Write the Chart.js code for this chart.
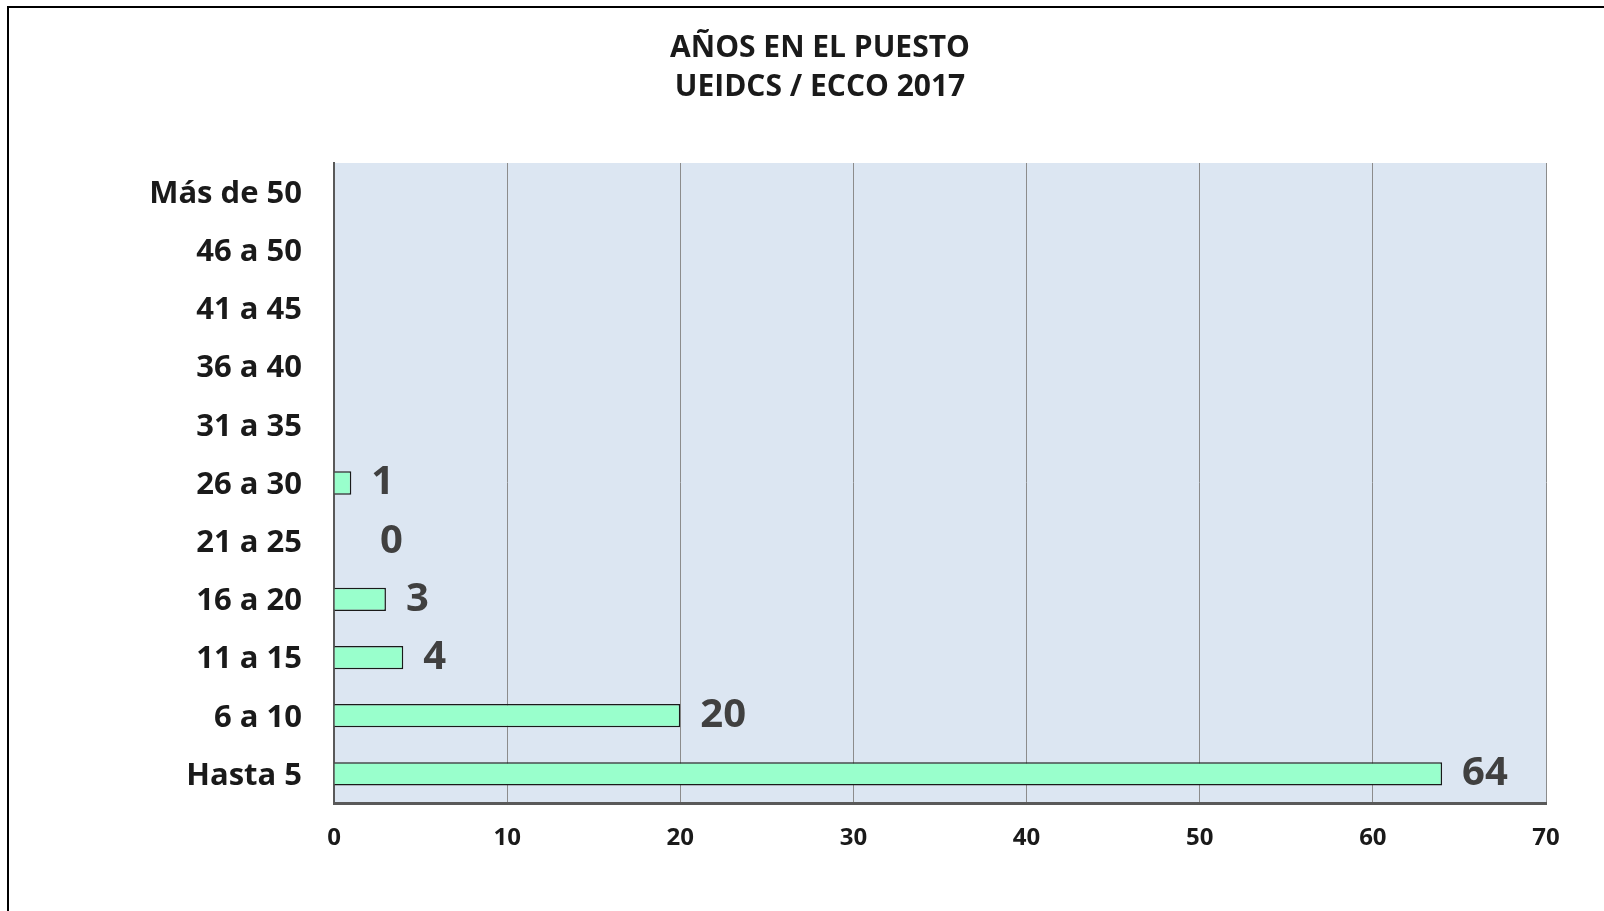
<!DOCTYPE html>
<html>
<head>
<meta charset="utf-8">
<script src="https://cdn.jsdelivr.net/npm/chart.js@4.4.1/dist/chart.umd.min.js"></script>
<style>
  html, body { margin: 0; padding: 0; background: #ffffff; overflow: hidden; }
  #wrap { position: absolute; left: 0; top: 0; width: 1604px; height: 911px; overflow: hidden; }
  #frame { position: absolute; left: 7px; top: 6px; width: 1700px; height: 1000px; border-left: 2px solid #000; border-top: 2px solid #000; box-sizing: border-box; pointer-events: none; }
  canvas { position: absolute; left: 0; top: 0; }
</style>
</head>
<body>
<div id="wrap">
  <canvas id="chart" width="1604" height="911"></canvas>
  <div id="frame"></div>
</div>
<script>
// Años en el puesto, de mayor a menor antigüedad (arriba a abajo)
const categories = ['Más de 50', '46 a 50', '41 a 45', '36 a 40', '31 a 35', '26 a 30', '21 a 25', '16 a 20', '11 a 15', '6 a 10', 'Hasta 5'];
const values = [null, null, null, null, null, 1, 0, 3, 4, 20, 64];
const xTicks = [0, 10, 20, 30, 40, 50, 60, 70];
const titleLines = ['AÑOS EN EL PUESTO', 'UEIDCS / ECCO 2017'];

const FONT = "'Open Sans', 'DejaVu Sans', sans-serif";

// Fondo azul claro del área de trazado
const plotBackground = {
  id: 'plotBackground',
  beforeDraw(chart) {
    const { ctx, chartArea: a } = chart;
    ctx.save();
    ctx.fillStyle = '#dce6f2';
    ctx.fillRect(a.left, a.top, a.right - a.left, a.bottom - a.top);
    ctx.restore();
  }
};

// Etiquetas de valor al final de cada barra
const valueLabels = {
  id: 'valueLabels',
  afterDatasetsDraw(chart) {
    const { ctx } = chart;
    const meta = chart.getDatasetMeta(0);
    ctx.save();
    ctx.fillStyle = '#404040';
    ctx.font = "bold 40px " + FONT;
    ctx.textAlign = 'left';
    ctx.textBaseline = 'middle';
    meta.data.forEach((bar, i) => {
      const v = values[i];
      if (v === null || v === undefined) return;
      const offset = v === 0 ? 46 : 20;
      ctx.fillText(String(v), bar.x + offset, bar.y);
    });
    ctx.restore();
  }
};

new Chart(document.getElementById('chart'), {
  type: 'bar',
  data: {
    labels: categories,
    datasets: [{
      data: values,
      backgroundColor: '#99ffcc',
      borderColor: '#1a1a1a',
      borderWidth: 1.5,
      borderSkipped: 'start',
      barPercentage: 0.4,
      categoryPercentage: 1
    }]
  },
  options: {
    indexAxis: 'y',
    responsive: false,
    animation: false,
    layout: { padding: { left: 94, right: 58, top: 0, bottom: 0 } },
    plugins: {
      legend: { display: false },
      tooltip: { enabled: false },
      title: {
        display: true,
        text: titleLines,
        color: '#1a1a1a',
        font: { family: FONT, size: 30, weight: 'bold', lineHeight: 1.3 },
        padding: { top: 29, bottom: 56 }
      }
    },
    scales: {
      x: {
        min: 0,
        max: 70,
        afterBuildTicks(scale) { scale.ticks = xTicks.map(v => ({ value: v })); },
        afterFit(scale) { scale.height = 108; },
        grid: { color: '#8c8c8c', lineWidth: 1, drawTicks: false },
        border: { display: true, color: '#595959', width: 3 },
        ticks: {
          color: '#1a1a1a',
          padding: 21,
          maxRotation: 0,
          font: { family: FONT, size: 24, weight: 'bold' }
        }
      },
      y: {
        afterFit(scale) { scale.width = 240; },
        grid: { display: false, drawTicks: false },
        border: { display: true, color: '#595959', width: 2 },
        ticks: {
          color: '#1a1a1a',
          padding: 32,
          labelOffset: 2,
          font: { family: FONT, size: 31, weight: 'bold' }
        }
      }
    }
  },
  plugins: [plotBackground, valueLabels]
});
</script>
</body>
</html>
